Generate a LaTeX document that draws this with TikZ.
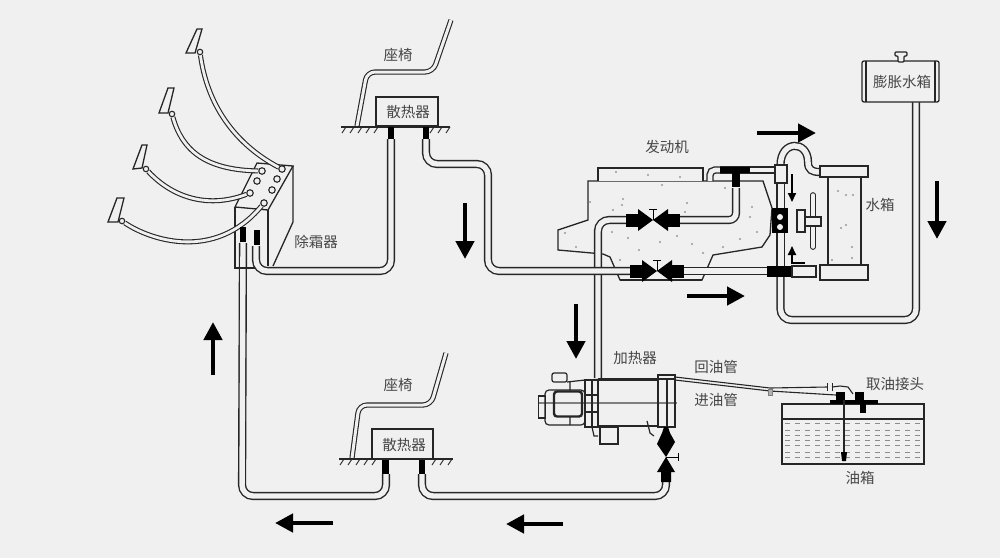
\documentclass[tikz,border=0pt]{standalone}
\usepackage{fontspec}
\setmainfont{Noto Sans CJK SC}
\usetikzlibrary{arrows.meta}
\definecolor{paper}{HTML}{F0F0F0}
\definecolor{ink}{HTML}{262626}
\definecolor{label}{HTML}{454545}
\tikzset{
  pipe/.style={draw=ink, line width=1.4pt, double=paper, double distance=5.4pt, rounded corners=11pt},
  hose/.style={draw=ink, line width=1.1pt, double=paper, double distance=2.8pt},
  seat/.style={draw=ink, line width=1.1pt, double=paper, double distance=3pt, rounded corners=8pt},
  part/.style={draw=ink, line width=1.3pt, fill=paper},
  blackpart/.style={fill=black},
  flowarrow/.style={line width=4.4pt, draw=black, -{Triangle[width=18pt,length=18pt]}},
  tiparrow/.style={line width=1.8pt, draw=black, -{Triangle[width=8pt,length=9pt]}},
  txt/.style={text=label, font=\fontsize{14.5}{16}\selectfont, inner sep=0pt},
  speck/.style={fill=gray!80, circle, inner sep=0pt, minimum size=2.4pt},
  oil/.style={draw=gray!90, line width=.9pt, dash pattern=on 5pt off 5pt},
  nozzle/.style={circle, draw=ink, line width=1.1pt, fill=paper, inner sep=0pt, minimum size=6.5pt},
  blade/.style={draw=ink, line width=1.3pt, fill=paper},
  heaterpart/.style={draw=ink, line width=1.2pt},
  valve/.pic={
    \fill (-27,-6.5) rectangle (-15,6.5);
    \fill (15,-6.5) rectangle (27,6.5);
    \fill (-15,-11) -- (0,0) -- (-15,11) -- cycle;
    \fill (15,-11) -- (0,0) -- (15,11) -- cycle;
    \draw[line width=1pt] (0,0) -- (0,-11) (-4,-11) -- (4,-11);
  }
}
\begin{document}
\begin{tikzpicture}[x=1pt,y=-1pt]
    \useasboundingbox (0,0) rectangle (1000,558);
    \fill[paper] (0,0) rectangle (1000,558);

    \node [rectangle, part, minimum width=62pt, minimum height=29pt] (radiatorup) at (407,111.5) {};
    \node [rectangle, part, minimum width=61pt, minimum height=30pt] (radiatordown) at (402.5,444) {};
    \node [txt] (radiatoruptext) at (408,112) {散热器};
    \node [txt] (radiatordowntext) at (404,445) {散热器};
    \node [txt] (seatuptext) at (398,55) {座椅};
    \node [txt] (seatdowntext) at (398,385) {座椅};
    \node [txt] (defrosttext) at (316,242) {除霜器};
    \node [txt] (enginetext) at (667,147) {发动机};
    \node [txt] (heatertext) at (635,358) {加热器};
    \node [txt] (returntext) at (716,367) {回油管};
    \node [txt] (feedtext) at (716,400) {进油管};
    \node [txt] (jointtext) at (895,384) {取油接头};
    \node [txt] (tanktext) at (860,478) {油箱};
    \node [txt] (watertext) at (880,205) {水箱};

    \coordinate (seatupa) at (357,126);
    \coordinate (seatupb) at (367,72);
    \coordinate (seatupc) at (433,72);
    \coordinate (seatupd) at (451,20);
    \coordinate (seatdowna) at (352,458);
    \coordinate (seatdownb) at (359,405);
    \coordinate (seatdownc) at (431,405);
    \coordinate (seatdownd) at (446,353);
    \draw [seat] (seatupa) -- (seatupb) -- (seatupc) -- (seatupd);
    \draw [seat] (seatdowna) -- (seatdownb) -- (seatdownc) -- (seatdownd);

    \draw [draw=ink, line width=1.4pt] (341,127) -- (450,127);
    \draw [draw=ink, line width=1.4pt] (339,459) -- (453,459);
    \foreach \x in {346,354,362,370,378,434,442,450}
      \draw [draw=ink, line width=.9pt] (\x,127) -- (\x-4,133);
    \foreach \x in {344,352,360,368,376,436,444,452}
      \draw [draw=ink, line width=.9pt] (\x,459) -- (\x-4,465);

    \draw [part] (588,181) -- (763,181) -- (772,208) -- (770,235) -- (762,247) -- (713,255) -- (702,280)
      -- (620,280) -- (610,257) -- (603,254) -- (558,250) -- (558,230) -- (588,220) -- cycle;
    \draw [draw=ink, line width=2.2pt] (620,280) -- (702,280);
    \draw [part] (598,181) -- (598,168) -- (703,168) -- (703,181);
    \foreach \x/\y in {616/172,648/175,680/177,662/185,725/188,590/202,623/199,613/210,622/205,687/203,685/212,752/207,750/217,757/232,740/239,723/247,703/253,692/244,677/236,660/242,639/250,628/238,612/232,620/260,565/233,576/247}
      \node [speck] at (\x,\y) {};

    \coordinate (defrosta) at (243,243);
    \coordinate (defrostb) at (256,246);
    \coordinate (fronta) at (391,139);
    \coordinate (frontb) at (426,139);
    \coordinate (reara) at (386,474);
    \coordinate (rearb) at (422,474);
    \coordinate (enginepipe) at (488,164);
    \coordinate (lowervalvea) at (632,271);
    \coordinate (lowervalveb) at (683,271);
    \coordinate (uppervalvea) at (626,220);
    \coordinate (uppervalveb) at (678,220);
    \coordinate (heatertop) at (598,378);
    \coordinate (heaterin) at (666,482);
    \coordinate (rightblock) at (767,271);
    \coordinate (tee) at (736,188);
    \coordinate (teeleft) at (720,170);
    \coordinate (teeright) at (776,170);
    \coordinate (enginetop) at (710,181);
    \coordinate (archa) at (780.5,165);
    \coordinate (archb) at (820,172);
    \coordinate (expansionout) at (916,102);
    \coordinate (lowerblock) at (780.5,277);

    \draw [pipe] (uppervalvea) -- (598,220) -- (heatertop);
    \draw [pipe] (frontb) -- (426,164) -- (enginepipe) -- (488,271) -- (lowervalvea);
    \draw [pipe] (fronta) -- (391,271) -- (256,271) -- (defrostb);
    \draw [pipe] (defrosta) -- (242,496) -- (386,496) -- (reara);
    \draw [pipe] (rearb) -- (422,496) -- (666,496) -- (heaterin);
    \draw [pipe] (lowervalveb) -- (rightblock);
    \draw [pipe, rounded corners=7pt] (uppervalveb) -- (736,220) -- (tee);
    \draw [pipe, double distance=4.6pt, rounded corners=5pt] (teeleft) -- (710,170) -- (enginetop);
    \draw [pipe, double distance=4.6pt] (teeright) -- (teeleft);
    \draw [pipe] (lowerblock) -- (780.5,320) -- (916,320) -- (expansionout);
    \draw [pipe, double distance=6pt, rounded corners=0pt] (780.5,183) -- (780.5,266);
    \draw [pipe, rounded corners=0pt] (archa) .. controls (780.5,140) and (808,140) .. (808,162) .. controls (808,170) and (812,172) .. (archb);

    \draw [part] (235,207) -- (257,163) -- (293,166) -- (268,210) -- cycle;
    \draw [draw=ink, line width=1.3pt] (235,207) -- (235,268) -- (255,268);
    \draw [draw=ink, line width=1.3pt] (268,210) -- (268,266);
    \draw [draw=ink, line width=1.3pt] (293,166) -- (293,222) -- (273,266);
    \node [nozzle] (nozzlea) at (282,169) {};
    \node [nozzle] (nozzleb) at (262,171) {};
    \node [nozzle] (nozzlec) at (250,193) {};
    \node [nozzle] (nozzled) at (264,203) {};
    \node [nozzle] (nozzlee) at (257,181) {};
    \node [nozzle] (nozzlef) at (277,179) {};
    \node [nozzle] (nozzleg) at (272,190) {};

    \draw [blade] (186,53) -- (197,29) -- (202,29) -- (195,53) -- cycle;
    \draw [blade] (159,113) -- (168,88) -- (174,88) -- (168,113) -- cycle;
    \draw [blade] (133,169) -- (142,145) -- (147,145) -- (142,168) -- cycle;
    \draw [blade] (108,222) -- (117,198) -- (124,198) -- (118,222) -- cycle;
    \node [nozzle, minimum size=5.5pt] (bladea) at (200,52) {};
    \node [nozzle, minimum size=5.5pt] (bladeb) at (172,114) {};
    \node [nozzle, minimum size=5.5pt] (bladec) at (146,169) {};
    \node [nozzle, minimum size=5.5pt] (bladed) at (122,221) {};
    \draw [hose] (bladea) .. controls (207,103) and (233,143) .. (nozzlea);
    \draw [hose] (bladeb) .. controls (182,150) and (205,170) .. (nozzleb);
    \draw [hose] (bladec) .. controls (170,195) and (205,210) .. (nozzlec);
    \draw [hose] (bladed) .. controls (150,240) and (215,262) .. (nozzled);

    \fill [blackpart] (240,227) rectangle (246,242);
    \fill [blackpart] (254,230) rectangle (260,245);
    \fill [blackpart] (388,127) rectangle (394,139);
    \fill [blackpart] (423,127) rectangle (429,139);
    \fill [blackpart] (382,460) rectangle (389,474);
    \fill [blackpart] (419,460) rectangle (425,474);
    \fill [blackpart] (720,167) rectangle (750,173);
    \fill [blackpart] (732,172) rectangle (740,187);
    \fill [blackpart] (767,266) rectangle (792,277);
    \fill [blackpart] (772,208) rectangle (788,233);
    \fill [paper] (780,217) circle (3pt);
    \fill [paper] (780,227) circle (3pt);
    \pic at (653,220) {valve};
    \pic at (657,271) {valve};

    \node [rectangle, part, minimum width=12pt, minimum height=18pt] (fitting) at (781,174) {};
    \node [rectangle, part, minimum width=24pt, minimum height=11pt] (stub) at (804,271.5) {};
    \node [rectangle, part, minimum width=33pt, minimum height=88pt] (core) at (844.5,221) {};
    \node [rectangle, part, minimum width=48pt, minimum height=11pt] (tanktop) at (844,171.5) {};
    \node [rectangle, part, minimum width=48pt, minimum height=15pt] (tankbottom) at (844,272.5) {};
    \foreach \x/\y in {838/191,846/195,853/195,846/225,841/228,852/247,852/258,832/260}
      \node [speck] at (\x,\y) {};

    \node [rectangle, part, minimum width=8pt, minimum height=22pt] (fanbox) at (801,221) {};
    \coordinate (fanup) at (813,195);
    \coordinate (fandown) at (813,247);
    \draw [draw=ink, line width=1.1pt, double=paper, double distance=3.5pt, line cap=round] (fanup) -- (fandown);
    \node [rectangle, part, minimum width=16pt, minimum height=9pt] (fanhub) at (813,221.5) {};

    \node [rectangle, part, rounded corners=2pt, minimum width=77pt, minimum height=41pt] (expansion) at (900.5,81.5) {};
    \node [txt] (expansiontext) at (902,82) {膨胀水箱};
    \draw [draw=ink, line width=1.1pt] (866,61) -- (866,102) (935,61) -- (935,102);
    \draw [part, rounded corners=1pt] (895,52) -- (907,52) -- (907,56) -- (904,56) -- (904,62) -- (898,62) -- (898,56) -- (895,56) -- cycle;

    \coordinate (smalla) at (792,174);
    \coordinate (smallb) at (792,202);
    \coordinate (smallc) at (805,263);
    \coordinate (smalld) at (792,246);
    \draw [tiparrow] (smalla) -- (smallb);
    \draw [tiparrow] (smallc) -- (792,263) -- (smalld);

    \foreach \nm/\ax/\ay/\bx/\by in {one/757/133/816/133,two/937/181/937/239,three/465/203/465/259,four/687/296/745/296,five/576/304/576/359,six/213/375/213/322,seven/333/523/275/523,eight/563/524/506/524}
    {
      \coordinate (\nm a) at (\ax,\ay);
      \coordinate (\nm b) at (\bx,\by);
      \draw [flowarrow] (\nm a) -- (\nm b);
    }

    \draw [draw=gray, line width=1.2pt] (538,403) -- (677,403);
    \node [rectangle, heaterpart, minimum width=60pt, minimum height=46pt] (heater) at (628,403) {};
    \node [rectangle, heaterpart, minimum width=17pt, minimum height=52pt] (heaterend) at (666.5,401) {};
    \node [rectangle, heaterpart, minimum width=13pt, minimum height=47pt] (flange) at (591.5,403.5) {};
    \node [rectangle, heaterpart, rounded corners=4pt, minimum width=40pt, minimum height=35pt] (motor) at (565,407.5) {};
    \node [rectangle, heaterpart, minimum width=6pt, minimum height=22pt] (motorcap) at (542,407) {};
    \node [rectangle, draw=ink, line width=2.4pt, rounded corners=3pt, minimum width=28pt, minimum height=25pt] (motorcore) at (568,404) {};
    \node [rectangle, heaterpart, rounded corners=2pt, minimum width=15pt, minimum height=9pt] (motortop) at (559.5,377.5) {};
    \node [rectangle, heaterpart, minimum width=18pt, minimum height=17pt] (heaterbox) at (609,435.5) {};
    \draw [heaterpart] (570,382) -- (570,391) (570,417) -- (570,425) (567,382) -- (585,380);
    \draw [heaterpart] (585,395) -- (598,395) (585,412) -- (598,412) (592,380) -- (592,427);
    \draw [draw=ink, line width=2pt] (598,379) -- (675,379);
    \draw [heaterpart] (647,421) -- (650,433) -- (654,436);
    \draw [heaterpart] (667,378) -- (667,426);
    \draw [heaterpart] (592,427) -- (594,436) -- (598,436);

    \fill [blackpart] (664,427) -- (668,427) -- (670,433) -- (675,442) -- (666,457) -- (657,444) -- (662,433) -- cycle;
    \fill [blackpart] (666,457) -- (675,472) -- (671,472) -- (671,482) -- (661,482) -- (661,472) -- (657,472) -- cycle;
    \draw [draw=black, line width=1pt] (666,457) -- (678,457) (678,453) -- (678,461);

    \node [rectangle, draw=ink, line width=1.5pt, minimum width=142pt, minimum height=60pt] (tank) at (853,434) {};
    \draw [draw=ink, line width=1.7pt] (782,419) -- (924,419);
    \foreach \y in {423,430,435,440,445,452,457}
      \draw [oil] (785,\y) -- (921,\y);
    \fill [blackpart] (830,400) rectangle (878,404);
    \fill [blackpart] (836,392) rectangle (845,400);
    \fill [blackpart] (855,392) rectangle (864,400);
    \fill [blackpart] (860,404) rectangle (866,413);
    \draw [draw=ink, line width=2.6pt] (844,400) -- (844,458);
    \fill [blackpart] (841,452) -- (847,452) -- (846,461) -- (842,461) -- cycle;

    \coordinate (heaterreturn) at (675,377);
    \coordinate (heaterfeed) at (675,380);
    \coordinate (capleft) at (827,387);
    \coordinate (capright) at (832,387);
    \coordinate (returnend) at (853,394);
    \coordinate (feedend) at (836,395);
    \draw [draw=ink, line width=1.1pt] (heaterreturn) -- (770,388) -- (capleft);
    \draw [draw=ink, line width=1.1pt] (capright) -- (840,386) -- (848,387) -- (returnend);
    \draw [draw=ink, line width=1.1pt] (heaterfeed) -- (770,391) -- (feedend);
    \draw [draw=ink, line width=.9pt] (capleft) ++(0,-4) -- ++(0,8) (capright) ++(0,-4) -- ++(0,8);
    \node [rectangle, draw=gray, fill=gray!60, inner sep=0pt, minimum width=4pt, minimum height=6pt] (clip) at (770,392) {};
\end{tikzpicture}
\end{document}
